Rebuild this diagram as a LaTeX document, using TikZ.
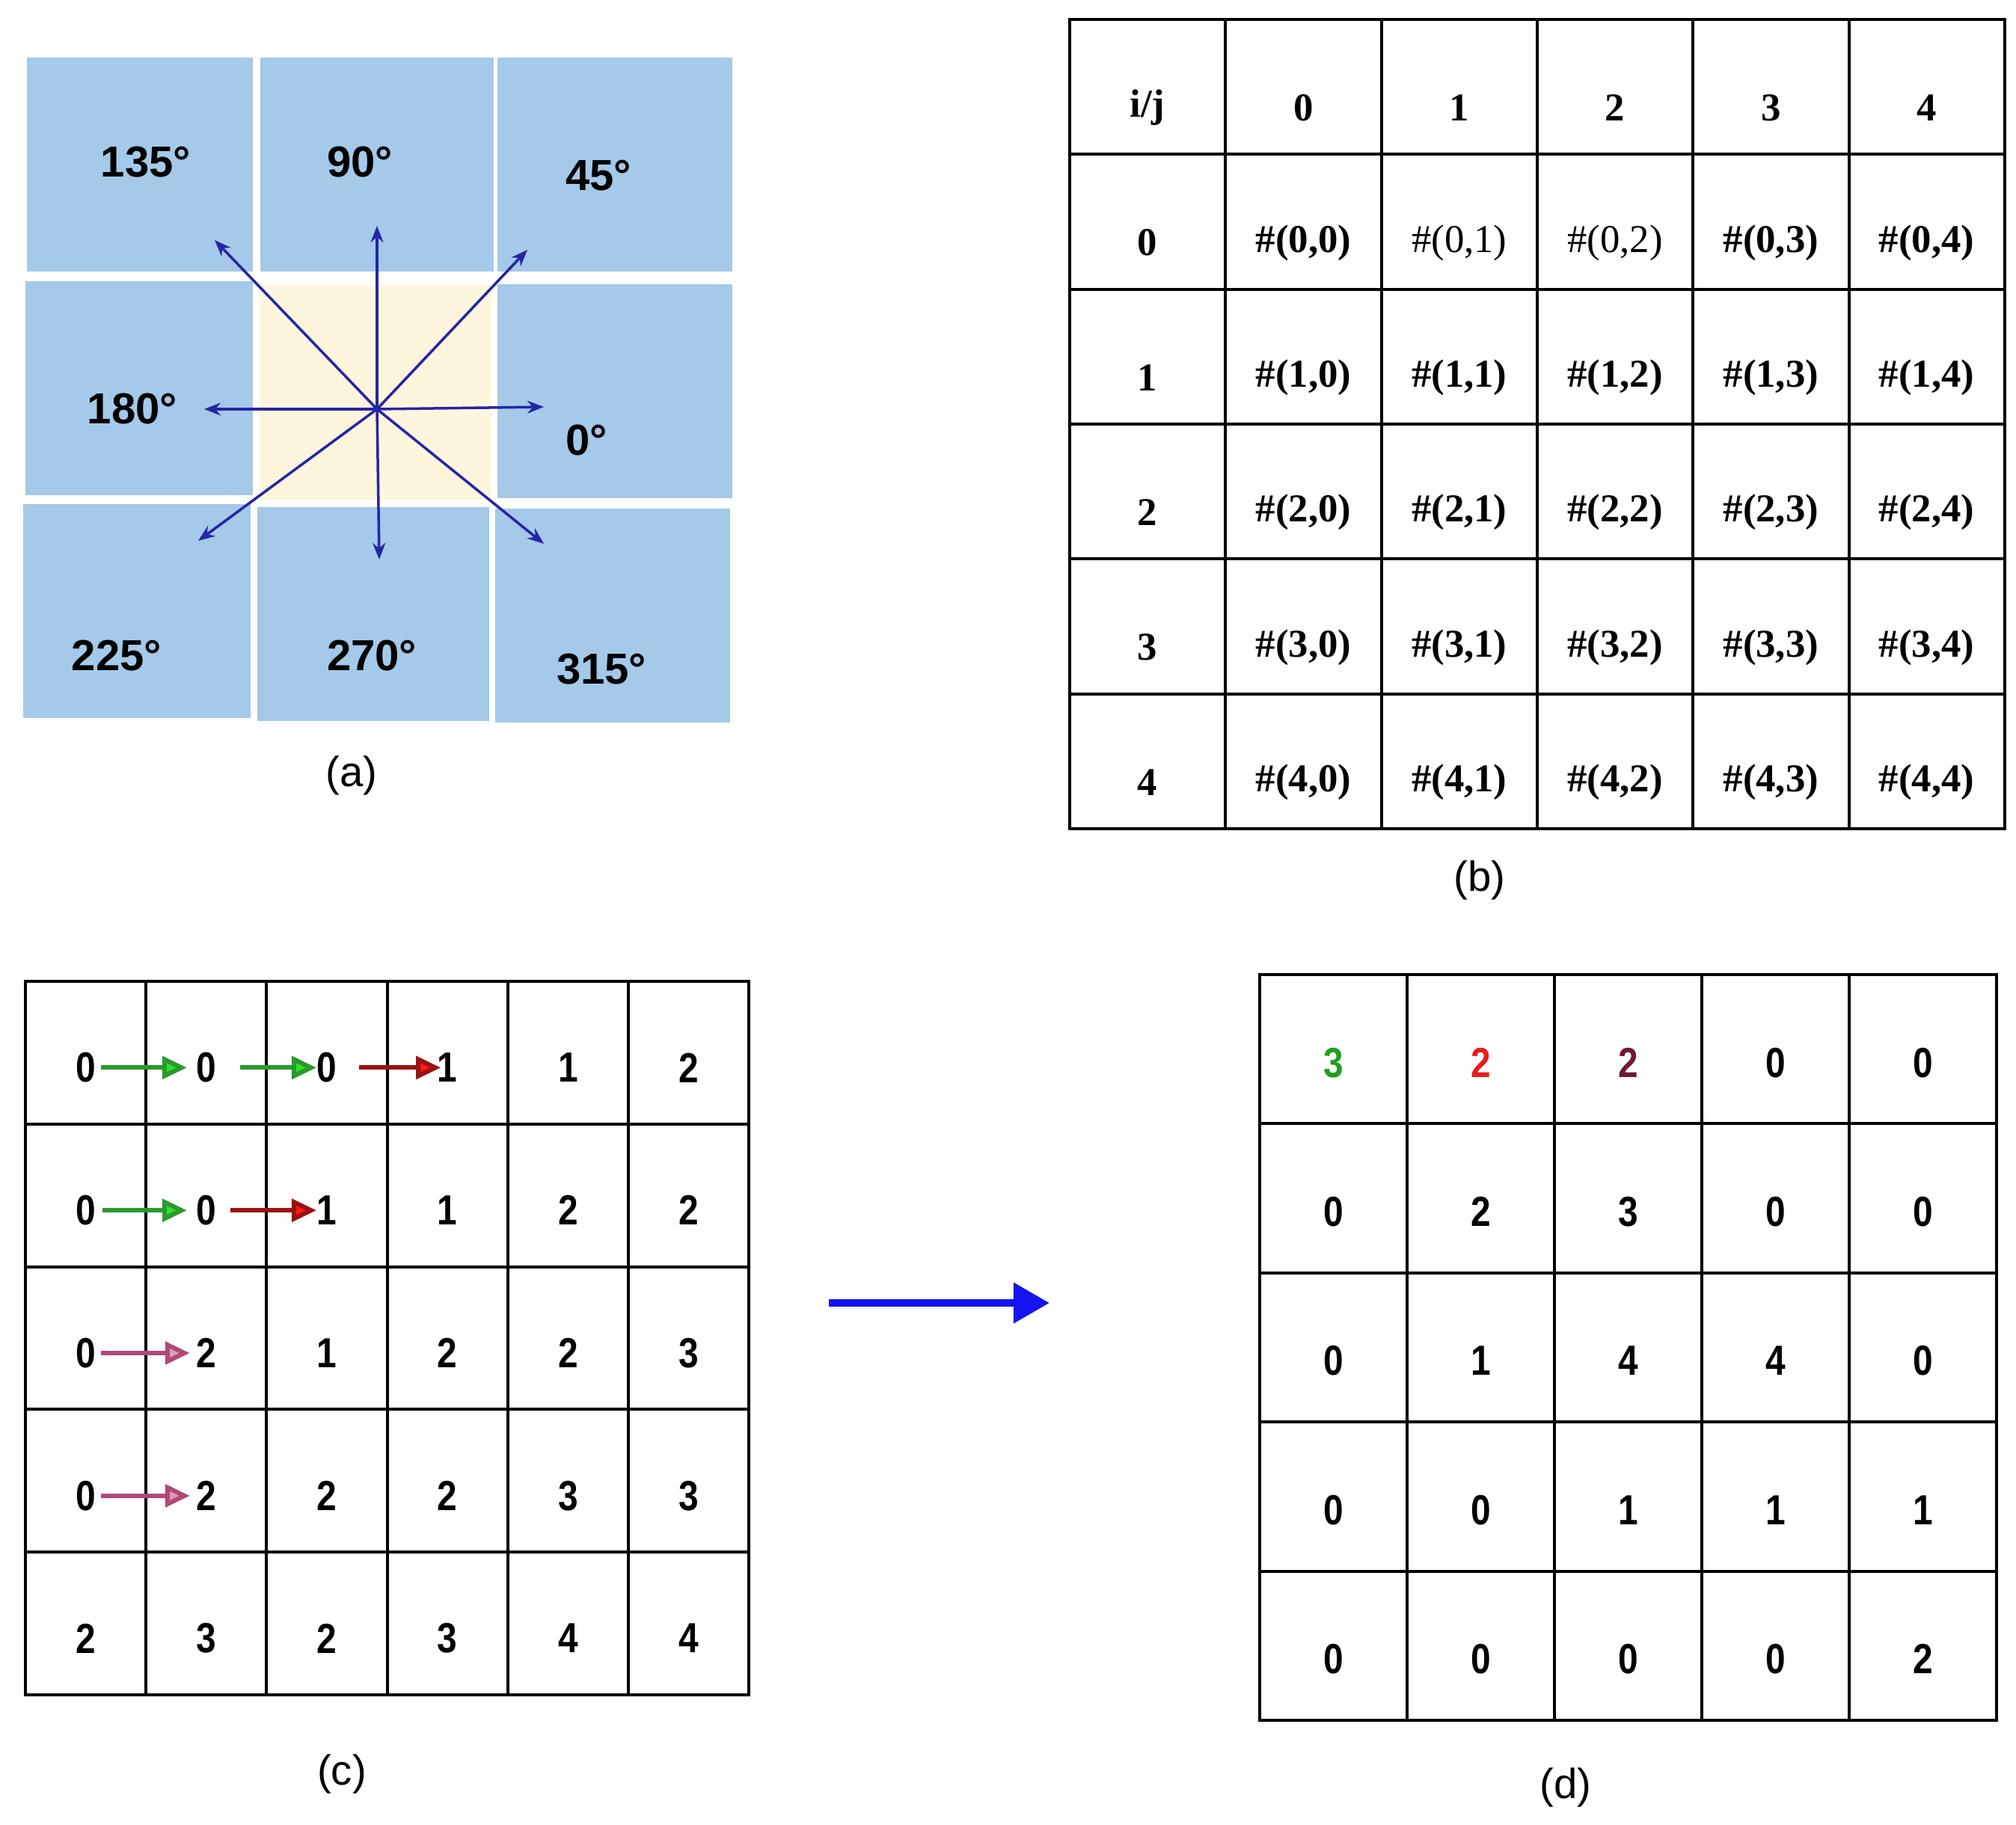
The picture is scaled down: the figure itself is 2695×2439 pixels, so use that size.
\documentclass[tikz,border=0pt]{standalone}
\usepackage{fontspec}
\setmainfont{Liberation Sans}
\newfontfamily\tabfont{Liberation Serif}
\newfontfamily\cellfont[FakeStretch=0.85]{Liberation Sans}
\usetikzlibrary{arrows.meta}
\definecolor{tileblue}{HTML}{A4C9E9}
\definecolor{tilecream}{HTML}{FDF6DC}
\definecolor{dirblue}{HTML}{2525A8}
\definecolor{ghead}{HTML}{2EE02E}
\definecolor{gshaft}{HTML}{2A9A2A}
\definecolor{rhead}{HTML}{FF1A1A}
\definecolor{rshaft}{HTML}{9A1212}
\definecolor{phead}{HTML}{DB9CBA}
\definecolor{pshaft}{HTML}{B04878}
\definecolor{dgreen}{HTML}{1FA01F}
\definecolor{dred}{HTML}{E81C1C}
\definecolor{dmaroon}{HTML}{6E1838}
\definecolor{bigblue}{HTML}{1414F0}

\begin{document}
\begin{tikzpicture}[x=0.01cm, y=-0.01cm,
  tile/.style={fill=tileblue, minimum height=2.85cm, inner sep=0pt},
  deg/.style={font=\fontsize{16.5}{20}\selectfont\bfseries},
  dirarrow/.style={draw=dirblue, line width=0.035cm, -{Stealth[length=0.22cm,width=0.17cm]}},
  gridline/.style={line width=0.04cm},
  tabtxt/.style={font=\tabfont\fontsize{15}{18}\selectfont\bfseries, inner sep=0pt},
  cval/.style={font=\cellfont\fontsize{16}{19}\selectfont\bfseries, inner sep=0pt},
  garrow/.style={draw=gshaft, line width=0.06cm, -{Triangle[length=0.33cm,width=0.3cm,fill=ghead]}},
  rarrow/.style={draw=rshaft, line width=0.06cm, -{Triangle[length=0.33cm,width=0.3cm,fill=rhead]}},
  parrow/.style={draw=pshaft, line width=0.06cm, -{Triangle[length=0.33cm,width=0.3cm,fill=phead]}},
  bigarrow/.style={draw=bigblue, line width=0.1cm, -{Triangle[length=0.48cm,width=0.52cm]}},
  captxt/.style={font=\fontsize{16}{19}\selectfont}]
\useasboundingbox (0,0) rectangle (2695,2439);

% (a) neighbourhood directions
\node[tile, minimum width=3.02cm] (t135) at (187,220) {};
\node[tile, minimum width=3.11cm] (t90) at (504,220) {};
\node[tile, minimum width=3.13cm] (t45) at (822,220) {};
\node[tile, minimum width=3.03cm] (t180) at (186,519) {};
\node[tile, fill=tilecream, minimum width=3.09cm] (tmid) at (502,525) {};
\node[tile, minimum width=3.13cm] (t0) at (822,523) {};
\node[tile, minimum width=3.03cm] (t225) at (183,817) {};
\node[tile, minimum width=3.10cm] (t270) at (499,821) {};
\node[tile, minimum width=3.13cm] (t315) at (819,823) {};
\node[deg] (l135) at (195,217) {135°};
\node[deg] (l90) at (481,217) {90°};
\node[deg] (l45) at (800,235) {45°};
\node[deg] (l180) at (177,547) {180°};
\node[deg] (l0) at (784,589) {0°};
\node[deg] (l225) at (156,877) {225°};
\node[deg] (l270) at (497,877) {270°};
\node[deg] (l315) at (804,895) {315°};
\coordinate (o) at (504,547);
\coordinate (pE) at (727,544);
\coordinate (pNE) at (705,334);
\coordinate (pN) at (504,302);
\coordinate (pNW) at (287,321);
\coordinate (pW) at (273,547);
\coordinate (pSW) at (265,723);
\coordinate (pS) at (507,748);
\coordinate (pSE) at (727,727);
\draw[dirarrow] (o) -- (pE);
\draw[dirarrow] (o) -- (pNE);
\draw[dirarrow] (o) -- (pN);
\draw[dirarrow] (o) -- (pNW);
\draw[dirarrow] (o) -- (pW);
\draw[dirarrow] (o) -- (pSW);
\draw[dirarrow] (o) -- (pS);
\draw[dirarrow] (o) -- (pSE);
\node[captxt] (capa) at (470,1037) {(a)};

% (b) index table
\draw[gridline] (1430,26) rectangle (2680,1108);
\foreach \k in {1,...,5} \draw[gridline] ({1430+208.3*\k},26) -- ({1430+208.3*\k},1108);
\foreach \k in {1,...,5} \draw[gridline] (1430,{26+180.3*\k}) -- (2680,{26+180.3*\k});
\node[tabtxt] (bhead) at (1534,144) {i/j};
\foreach \j in {0,...,4} \node[tabtxt] (bc\j) at ({1430+208.3*(\j+1.5)},144) {\j};
\foreach \i in {0,...,4} {
  \node[tabtxt] (br\i) at (1534,{26+180.3*(\i+1.5)+28}) {\i};
  \foreach \j in {0,...,4}
    \node[tabtxt] (b\i\j) at ({1430+208.3*(\j+1.5)},{26+180.3*(\i+1.5)+28})
      {\ifnum\i=0 \ifnum\j>0 \ifnum\j<3 \mdseries\fi\fi\fi\#(\i,\j)};
}
\node[captxt] (capb) at (1978,1177) {(b)};

% (c) gray levels
\draw[gridline] (34,1312) rectangle (1001,2266);
\foreach \k in {1,...,5} \draw[gridline] ({34+161.2*\k},1312) -- ({34+161.2*\k},2266);
\foreach \k in {1,...,4} \draw[gridline] (34,{1312+190.8*\k}) -- (1001,{1312+190.8*\k});
\foreach \row [count=\i from 0] in {{0,0,0,1,1,2},{0,0,1,1,2,2},{0,2,1,2,2,3},{0,2,2,2,3,3},{2,3,2,3,4,4}}
  \foreach \v [count=\j from 0] in \row
    \node[cval] (c\i\j) at ({34+161.2*(\j+0.5)},{1312+190.8*(\i+0.5)+20}) {\v};
\draw[garrow, shorten <=0.06cm, shorten >=0.12cm] (c00.east) -- (c01.west);
\draw[garrow, shorten <=0.31cm, shorten >=0cm] (c01.east) -- (c02.west);
\draw[rarrow, shorten <=0.29cm, shorten >=-0.05cm] (c02.east) -- (c03.west);
\draw[garrow, shorten <=0.08cm, shorten >=0.12cm] (c10.east) -- (c11.west);
\draw[rarrow, shorten <=0.18cm, shorten >=0cm] (c11.east) -- (c12.west);
\draw[parrow, shorten <=0.06cm, shorten >=0.08cm] (c20.east) -- (c21.west);
\draw[parrow, shorten <=0.06cm, shorten >=0.08cm] (c30.east) -- (c31.west);
\node[captxt] (capc) at (457,2372) {(c)};

\coordinate (mvs) at (1108,1742);
\coordinate (mve) at (1403,1742);
\draw[bigarrow] (mvs) -- (mve);

% (d) co-occurrence counts
\draw[gridline] (1684,1303) rectangle (2669,2300);
\foreach \k in {1,...,4} \draw[gridline] ({1684+197*\k},1303) -- ({1684+197*\k},2300);
\foreach \k in {1,...,4} \draw[gridline] (1684,{1303+199.4*\k}) -- (2669,{1303+199.4*\k});
\foreach \v/\col [count=\j from 0] in {3/dgreen,2/dred,2/dmaroon,0/black,0/black}
  \node[cval, text=\col] (d0\j) at ({1684+197*(\j+0.5)},{1303+199.4*0.5+18}) {\v};
\foreach \row [count=\i from 1] in {{0,2,3,0,0},{0,1,4,4,0},{0,0,1,1,1},{0,0,0,0,2}}
  \foreach \v [count=\j from 0] in \row
    \node[cval] (d\i\j) at ({1684+197*(\j+0.5)},{1303+199.4*(\i+0.5)+18}) {\v};
\node[captxt] (capd) at (2093,2390) {(d)};
\end{tikzpicture}
\end{document}
